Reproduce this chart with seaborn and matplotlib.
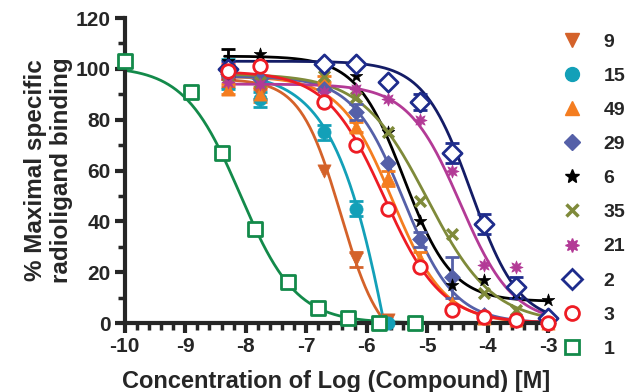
import numpy as np
import pandas as pd
import seaborn as sns
import matplotlib
matplotlib.use("Agg")
import matplotlib.pyplot as plt
from matplotlib.lines import Line2D
from matplotlib.ticker import MultipleLocator

# log concentration grid used for all compounds except 1
log_conc = [-8.3, -7.77, -6.71, -6.18, -5.65, -5.12, -4.59, -4.06, -3.53, -3.0]
log_conc_1 = [-10.0, -8.9, -8.4, -7.85, -7.3, -6.8, -6.3, -5.8, -5.2]

labels = ["9", "15", "49", "29", "6", "35", "21", "2", "3", "1"]
colors = ["#D4622A", "#13A0B8", "#F47D20", "#5560A8", "#000000",
          "#7F8A3A", "#B33A96", "#1E2C8C", "#EE1C24", "#138A4A"]
line_colors = ["#D4622A", "#13A0B8", "#F47D20", "#5560A8", "#000000",
               "#7F8A3A", "#B33A96", "#141C66", "#EE1C24", "#138A4A"]
markers = ["v", "o", "^", "D", "*", "x", (8, 1, 0), "D", "o", "s"]
hollow = [False, False, False, False, False, False, False, True, True, True]

nan = np.nan
# % maximal specific binding
y_9 = [95, 90, 60, 25, 1, nan, nan, nan, nan, nan]
y_15 = [98, 88, 75, 45, 0, nan, nan, nan, nan, nan]
y_49 = [92, 90, 96, 77, 57, 25, 8, 2, 1, 0]
y_29 = [98, 96, 92, 83, 63, 33, 18, 3, 1, 0]
y_6 = [103, 106, 103, 97, 75, 40, 15, 17, 12, 9]
y_35 = [97, 95, 97, 89, 75, 48, 35, 12, 5, 0]
y_21 = [95, 94, 91, 92, 88, 80, 60, 23, 22, 1]
y_2 = [100, nan, 102, 102, 95, 87, 67, 39, 14, 2]
y_3 = [99, 101, 87, 70, 45, 22, 5, 2.5, 1, 0]
y_1 = [103, 91, 67, 37, 16, 6, 2, 0, 0]

err_9 = [2, 2, 0, 3, 0, 0, 0, 0, 0, 0]
err_15 = [6, 3, 3, 3, 0, 0, 0, 0, 0, 0]
err_49 = [2, 3, 1, 2, 3, 3, 0, 0, 0, 0]
err_29 = [2, 0, 0, 3, 0, 3, 8, 0, 0, 0]
err_6 = [5, 0, 0, 0, 0, 0, 0, 0, 0, 0]
err_35 = [0, 0, 0, 0, 0, 0, 0, 0, 0, 0]
err_21 = [0, 0, 0, 0, 0, 0, 0, 0, 0, 0]
err_2 = [3, 0, 0, 0, 0, 3, 4, 4, 4, 0]
err_3 = [3, 0, 0, 0, 0, 0, 0, 0, 0, 0]
err_1 = [0, 0, 0, 0, 0, 0, 0, 0, 0]

# fitted four-parameter curves (estimated from the drawn lines)
fit_top = [96, 99, 97, 97, 105, 98, 94, 103, 99, 101]
fit_bottom = [-10, -200, 0, 0, 8.5, 0, 0, 0, 0, 0]
fit_logic50 = [-6.43, -5.33, -5.575, -5.39, -5.38, -5.0, -4.45, -4.27, -5.71, -8.09]
fit_hill = [1.3, 0.8, 1.0, 1.03, 1.1, 0.8, 1.0, 1.1, 0.91, 0.94]
fit_start = [-8.35] * 9 + [-10.0]
fit_end = [-3.0] * 9 + [-5.2]

ys = [y_9, y_15, y_49, y_29, y_6, y_35, y_21, y_2, y_3, y_1]
errs = [err_9, err_15, err_49, err_29, err_6, err_35, err_21, err_2, err_3, err_1]

sns.set_theme(style="ticks")
plt.rcParams['font.family'] = ['Liberation Sans', 'DejaVu Sans']
plt.rcParams['font.weight'] = 'bold'

fig = plt.figure(figsize=(6.27, 3.92), dpi=100)
ax = fig.add_axes([0.199, 0.176, 0.675, 0.778])

for i, lab in enumerate(labels):
    xs = log_conc_1 if lab == "1" else log_conc
    xf = np.linspace(fit_start[i], fit_end[i], 300)
    yf = fit_bottom[i] + (fit_top[i] - fit_bottom[i]) / (1 + 10 ** ((xf - fit_logic50[i]) * fit_hill[i]))
    sns.lineplot(x=xf, y=yf, color=line_colors[i], linewidth=2.0, ax=ax, zorder=2)

    df = pd.DataFrame({"x": xs, "y": ys[i], "e": errs[i]}).dropna()
    eb = df[df.e > 0]
    if len(eb):
        ax.errorbar(eb.x, eb.y, yerr=eb.e, fmt="none", ecolor=colors[i],
                    elinewidth=2, capsize=5, capthick=2, zorder=3, clip_on=False)
    if hollow[i]:
        sns.scatterplot(data=df, x="x", y="y", marker=markers[i], s=95,
                        facecolors="white", edgecolor=colors[i], linewidth=2,
                        ax=ax, zorder=4, clip_on=False)
    elif markers[i] == "x":
        sns.scatterplot(data=df, x="x", y="y", marker="x", s=60, color=colors[i],
                        linewidth=2.5, ax=ax, zorder=4, clip_on=False)
    else:
        sns.scatterplot(data=df, x="x", y="y", marker=markers[i], s=90 if markers[i] != "D" else 65,
                        color=colors[i], edgecolor=colors[i], linewidth=0.5,
                        ax=ax, zorder=4, clip_on=False)

ax.set_xlim(-10, -3)
ax.set_ylim(0, 120)
ax.xaxis.set_major_locator(MultipleLocator(1))
ax.xaxis.set_minor_locator(MultipleLocator(0.2))
ax.yaxis.set_major_locator(MultipleLocator(20))
ax.yaxis.set_minor_locator(MultipleLocator(10))
sns.despine(ax=ax)
for s in ["left", "bottom"]:
    ax.spines[s].set_linewidth(3)
ax.tick_params(which="major", length=7, width=3, labelsize=15, direction="out", pad=3)
ax.tick_params(which="minor", length=5, width=2.5, direction="out")
ax.set_xticks(ax.get_xticks())
ax.set_xticklabels([f"{int(v)}" for v in ax.get_xticks()])
for t in ax.get_xticklabels() + ax.get_yticklabels():
    t.set_fontweight("bold")
ax.set_xlim(-10, -3)

ax.set_xlabel("Concentration of Log (Compound) [M]", fontsize=17, fontweight="bold", labelpad=10)
ax.set_ylabel("% Maximal specific\nradioligand binding", fontsize=17.5, fontweight="bold", labelpad=2)

handles = []
for i, lab in enumerate(labels):
    if hollow[i]:
        h = Line2D([], [], linestyle="none", marker=markers[i], markersize=10,
                   markerfacecolor="white", markeredgecolor=colors[i], markeredgewidth=2)
    elif markers[i] == "x":
        h = Line2D([], [], linestyle="none", marker="x", markersize=8,
                   color=colors[i], markeredgewidth=2.5)
    else:
        h = Line2D([], [], linestyle="none", marker=markers[i], markersize=10 if markers[i] != "D" else 8.5,
                   color=colors[i])
    handles.append(h)
fig.legend(handles, labels, loc="upper left", bbox_to_anchor=(0.897, 0.916),
           frameon=False, prop={"weight": "bold", "size": 14},
           handlelength=1.0, handletextpad=1.1, labelspacing=0.85, borderpad=0,
           borderaxespad=0)

fig.savefig("out.png", dpi=100)
